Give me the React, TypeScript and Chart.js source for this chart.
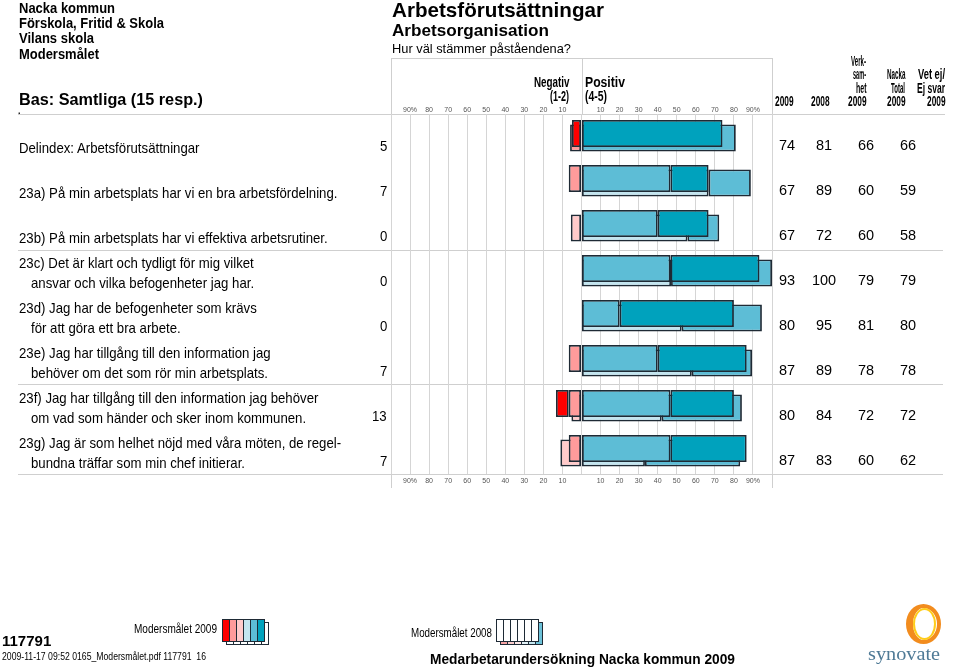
import React, { useEffect, useRef } from 'react';
import { Chart, registerables } from 'chart.js';

Chart.register(...registerables);

const SANS = '"Liberation Sans", Arial, Helvetica, sans-serif';
const SERIF = '"Liberation Serif", "Times New Roman", serif';

// ---------- data ----------
const rowKeys = ['Delindex', '23a', '23b', '23c', '23d', '23e', '23f', '23g'];
const rowLabels: string[][] = [
  ['Delindex: Arbetsförutsättningar'],
  ['23a) På min arbetsplats har vi en bra arbetsfördelning.'],
  ['23b) På min arbetsplats har vi effektiva arbetsrutiner.'],
  ['23c) Det är klart och tydligt för mig vilket', 'ansvar och vilka befogenheter jag har.'],
  ['23d) Jag har de befogenheter som krävs', 'för att göra ett bra arbete.'],
  ['23e) Jag har tillgång till den information jag', 'behöver om det som rör min arbetsplats.'],
  ['23f) Jag har tillgång till den information jag behöver', 'om vad som händer och sker inom kommunen.'],
  ['23g) Jag är som helhet nöjd med våra möten, de regel-', 'bundna träffar som min chef initierar.'],
];

// 2009 answer distribution (%)
const score1_2009 = [5, 0, 0, 0, 0, 0, 6.7, 0];
const score2_2009 = [0, 6.7, 0, 0, 0, 6.7, 6.7, 6.7];
const score4_2009 = [0, 46.7, 40, 46.7, 20, 40, 46.7, 46.7];
const score5_2009 = [74, 20, 26.7, 46.7, 60, 46.7, 33.3, 40];
// 2008 answer distribution (%)
const score1_2008 = [6, 0, 0, 0, 0, 0, 0, 0];
const score2_2008 = [0, 0, 5.6, 0, 0, 0, 5.3, 11.1];
const score4_2008 = [0, 66.7, 55.6, 47, 52.6, 57.9, 42.1, 33.3];
const score5_2008 = [81, 22.2, 16.7, 53, 42.1, 31.6, 42.1, 50];

// table columns
const negative2009 = [5, 7, 0, 0, 0, 7, 13, 7];
const positive2009 = [74, 67, 67, 93, 80, 87, 80, 87];
const positive2008 = [81, 89, 72, 100, 95, 89, 84, 83];
const verksamhet2009 = [66, 60, 60, 79, 81, 78, 72, 60];
const nackaTotal2009 = [66, 59, 58, 79, 80, 78, 72, 62];

const tickLabels = ['', '90%', '80', '70', '60', '50', '40', '30', '20', '10', '', '10', '20', '30', '40', '50', '60', '70', '80', '90%', ''];

// ---------- styles ----------
const RED = '#ff0000';
const PINK = '#ff9b9b';
const LIGHT_PINK = '#ffcaca';
const PALE_BLUE = '#c3e5ef';
const LIGHT_BLUE = '#5dbdd6';
const TEAL = '#00a2bd';
const BORDER = '#1e2a35';
const LINE = '#cfcfcf';

const PLOT_LEFT = 391;
const PLOT_RIGHT = 772;
const PLOT_TOP = 114;
const PLOT_BOTTOM = 474;
const AXIS_H = 20;
const W = 959;
const H = 669;

const rowBase = (i: number) => 150 + 45 * i;

let _mctx: CanvasRenderingContext2D | null = null;
function textWidth(text: string, font: string) {
  if (!_mctx) _mctx = document.createElement('canvas').getContext('2d');
  if (!_mctx) return text.length * 7;
  _mctx.font = font;
  return _mctx.measureText(text).width;
}

type TP = {
  x: number; b: number; text: string; size: number; bold?: boolean; w?: number; sx?: number;
  align?: 'left' | 'right' | 'center'; color?: string; family?: string;
};
function T({ x, b, text, size, bold, w, sx, align = 'left', color = '#000', family = SANS }: TP) {
  const font = `${bold ? 'bold ' : ''}${size}px ${family}`;
  const nat = textWidth(text, font) || 1;
  const scale = w != null ? w / nat : (sx ?? 1);
  const width = nat * scale;
  const left = align === 'left' ? x : align === 'right' ? x - width : x - width / 2;
  return (
    <span
      style={{
        position: 'absolute', left, top: b - 0.8465 * size, fontFamily: family, fontSize: size,
        fontWeight: bold ? 'bold' : 'normal', lineHeight: `${size}px`, whiteSpace: 'pre', color,
        transform: `scaleX(${scale})`, transformOrigin: '0 0',
      }}
    >
      {text}
    </span>
  );
}

function HLine({ x1, x2, y }: { x1: number; x2: number; y: number }) {
  return <div style={{ position: 'absolute', left: x1, top: y, width: x2 - x1, height: 1, background: LINE }} />;
}
function VLine({ x, y1, y2 }: { x: number; y1: number; y2: number }) {
  return <div style={{ position: 'absolute', left: x, top: y1, width: 1, height: y2 - y1, background: LINE }} />;
}

function LegendBoxes({ x, y, front, back }: { x: number; y: number; front: string[]; back: string[] }) {
  const box = (c: string, i: number, dx: number, dy: number, key: string) => (
    <div key={key} style={{
      position: 'absolute', left: x + i * 7 + dx, top: y + dy, width: 8, height: 23,
      background: c, border: `1px solid ${BORDER}`, boxSizing: 'border-box',
    }} />
  );
  return (
    <>
      {back.map((c, i) => box(c, i, 4, 3, 'b' + i))}
      {front.map((c, i) => box(c, i, 0, 0, 'f' + i))}
    </>
  );
}

const shiftPlugin = {
  id: 'yearShift',
  beforeDatasetDraw(chart: any, args: any) {
    const ds = chart.data.datasets[args.index];
    chart.ctx.save();
    chart.ctx.translate(0, ds.stack === '2008' ? 1.5 : -3);
  },
  afterDatasetDraw(chart: any) {
    chart.ctx.restore();
  },
};

export default function App() {
  const ref = useRef<HTMLCanvasElement | null>(null);

  useEffect(() => {
    if (!ref.current) return;
    Chart.defaults.font.family = SANS;
    const mk = (label: string, values: number[], sign: number, color: string, stack: string) => ({
      label,
      data: values.map((v) => (v ? sign * v : null)),
      backgroundColor: color,
      borderColor: BORDER,
      borderWidth: 1.8,
      borderSkipped: false,
      stack,
      grouped: false,
      order: stack === '2009' ? 0 : 1,
      categoryPercentage: 1,
      barPercentage: 0.6,
    });
    const datasets = [
      mk('2009 (2)', score2_2009, -1, PINK, '2009'),
      mk('2009 (1)', score1_2009, -1, RED, '2009'),
      mk('2009 (4)', score4_2009, 1, LIGHT_BLUE, '2009'),
      mk('2009 (5)', score5_2009, 1, TEAL, '2009'),
      mk('2008 (2)', score2_2008, -1, LIGHT_PINK, '2008'),
      mk('2008 (1)', score1_2008, -1, PINK, '2008'),
      mk('2008 (4)', score4_2008, 1, PALE_BLUE, '2008'),
      mk('2008 (5)', score5_2008, 1, LIGHT_BLUE, '2008'),
    ];
    const tickFont = { size: 7, family: SANS };
    const fixH = (s: any) => { s.height = AXIS_H; };
    const chart = new Chart(ref.current, {
      type: 'bar',
      data: { labels: rowKeys, datasets: datasets as any },
      options: {
        indexAxis: 'y',
        responsive: false,
        maintainAspectRatio: false,
        animation: false,
        layout: {
          padding: {
            left: PLOT_LEFT,
            right: W - PLOT_RIGHT,
            top: PLOT_TOP - AXIS_H,
            bottom: H - PLOT_BOTTOM - AXIS_H,
          },
        },
        plugins: { legend: { display: false }, tooltip: { enabled: false } },
        scales: {
          x: {
            type: 'linear', position: 'bottom', min: -100, max: 100, stacked: true,
            ticks: {
              stepSize: 10, autoSkip: false, maxRotation: 0, padding: 3, color: '#555', font: tickFont,
              callback: (_v: any, i: number) => tickLabels[i],
            },
            grid: { color: '#d5d5d5', lineWidth: 1, drawTicks: false },
            border: { display: false },
            afterFit: fixH,
          },
          x2: {
            type: 'linear', position: 'top', min: -100, max: 100,
            ticks: {
              stepSize: 10, autoSkip: false, maxRotation: 0, padding: 0, color: '#555', font: tickFont,
              callback: (_v: any, i: number) => tickLabels[i],
            },
            grid: { display: false, drawTicks: false },
            border: { display: false },
            afterFit: fixH,
          },
          y: { type: 'category', display: false, stacked: true, offset: true, grid: { display: false } },
        },
      } as any,
      plugins: [shiftPlugin],
    });
    return () => chart.destroy();
  }, []);

  const valueCols = [
    { x: 787, vals: positive2009 },
    { x: 824, vals: positive2008 },
    { x: 866, vals: verksamhet2009 },
    { x: 908, vals: nackaTotal2009 },
  ];

  return (
    <div style={{ position: 'absolute', left: 0, top: 0, width: W, height: H, background: '#fff', overflow: 'hidden' }}>
      {/* lines behind the chart */}
      <div style={{ position: 'absolute', left: 0, top: 0, width: W, height: H }}>
        <HLine x1={18} x2={945} y={114} />
        <HLine x1={18} x2={943} y={250} />
        <HLine x1={18} x2={943} y={384} />
        <HLine x1={18} x2={943} y={474} />
        <HLine x1={391} x2={773} y={58} />
        <VLine x={391} y1={58} y2={488} />
        <VLine x={772} y1={58} y2={488} />
        <VLine x={582} y1={58} y2={114} />
      </div>

      <canvas ref={ref} width={W} height={H} style={{ position: 'absolute', left: 0, top: 0, width: W, height: H }} />

      <div style={{ position: 'absolute', left: 0, top: 0, width: W, height: H }}>
        {/* header left */}
        <T x={19} b={12.5} text="Nacka kommun" size={15} bold w={96} />
        <T x={19} b={27.5} text="Förskola, Fritid & Skola" size={15} bold w={145} />
        <T x={19} b={43} text="Vilans skola" size={15} bold w={75} />
        <T x={19} b={58.7} text="Modersmålet" size={15} bold w={80} />
        <T x={19} b={106} text="Bas: Samtliga (15 resp.)" size={16} bold w={184} />
        <T x={18} b={115} text="." size={9} bold />

        {/* titles */}
        <T x={392} b={17} text="Arbetsförutsättningar" size={20.5} bold w={212} />
        <T x={392} b={36} text="Arbetsorganisation" size={17} bold w={157} />
        <T x={392} b={53} text="Hur väl stämmer påståendena?" size={13} w={179} />

        <T x={569} b={87.3} text="Negativ" size={14} bold w={35.5} align="right" />
        <T x={569} b={100.5} text="(1-2)" size={14} bold w={19} align="right" />
        <T x={585} b={87.3} text="Positiv" size={14} bold w={40} />
        <T x={585} b={100.5} text="(4-5)" size={14} bold w={22} />

        {/* column headers */}
        <T x={793} b={106} text="2009" size={14.5} bold w={18.5} align="right" />
        <T x={829} b={106} text="2008" size={14.5} bold w={18.5} align="right" />
        <T x={866} b={66.5} text="Verk-" size={14.5} bold w={15} align="right" />
        <T x={866} b={79.7} text="sam-" size={14.5} bold w={13} align="right" />
        <T x={866} b={93} text="het" size={14.5} bold w={10.5} align="right" />
        <T x={866} b={106} text="2009" size={14.5} bold w={18.5} align="right" />
        <T x={905} b={79.7} text="Nacka" size={14.5} bold w={18.5} align="right" />
        <T x={905} b={93} text="Total" size={14.5} bold w={14} align="right" />
        <T x={905} b={106} text="2009" size={14.5} bold w={18.5} align="right" />
        <T x={945} b={79.7} text="Vet ej/" size={14.5} bold w={27} align="right" />
        <T x={945} b={93} text="Ej svar" size={14.5} bold w={28} align="right" />
        <T x={945} b={106} text="2009" size={14.5} bold w={18.5} align="right" />

        {/* row labels */}
        {rowLabels.map((lines, i) =>
          lines.map((line, j) => (
            <T
              key={`l${i}-${j}`}
              x={j === 0 ? 18.5 : 31}
              b={rowBase(i) + 3 - (lines.length - 1 - j) * 20}
              text={line}
              size={15}
              sx={0.88}
            />
          ))
        )}

        {/* negative column */}
        {negative2009.map((v, i) => (
          <T key={`n${i}`} x={387} b={rowBase(i) + 1} text={String(v)} size={15} sx={0.88} align="right" />
        ))}

        {/* right value columns */}
        {valueCols.map((c, ci) =>
          c.vals.map((v, i) => (
            <T key={`v${ci}-${i}`} x={c.x} b={rowBase(i)} text={String(v)} size={14.5} align="center" />
          ))
        )}

        {/* footer */}
        <T x={2} b={646} text="117791" size={15} bold />
        <T x={134} b={634} text="Modersmålet 2009" size={12.5} w={83} />
        <LegendBoxes x={222} y={619} front={[RED, PINK, LIGHT_PINK, PALE_BLUE, LIGHT_BLUE, TEAL]} back={['#fff', '#fff', '#fff', '#fff', '#fff', '#fff']} />
        <T x={411} b={638} text="Modersmålet 2008" size={12.5} w={81} />
        <LegendBoxes x={496} y={619} front={['#fff', '#fff', '#fff', '#fff', '#fff', '#fff']} back={['#f5a3a3', '#f9cccc', '#fde6e6', '#e3f2f7', '#c6e7f0', '#6cc1d8']} />
        <T x={2} b={660} text="2009-11-17 09:52 0165_Modersmålet.pdf 117791  16" size={10} w={204} />
        <T x={430} b={664} text="Medarbetarundersökning Nacka kommun 2009" size={14.5} bold w={305} />

        {/* logo */}
        <div style={{ position: 'absolute', left: 906, top: 604, width: 35, height: 40, borderRadius: '50%', boxSizing: 'border-box', borderStyle: 'solid', borderColor: '#f28c1e', borderWidth: '4px 4px 4px 7px' }} />
        <div style={{ position: 'absolute', left: 913, top: 608, width: 23, height: 32, borderRadius: '50%', boxSizing: 'border-box', border: '2px solid #ffcc1a' }} />
        <T x={868} b={660} text="synovate" size={18} w={72} family={SERIF} color="#4f7a96" />
      </div>
    </div>
  );
}
